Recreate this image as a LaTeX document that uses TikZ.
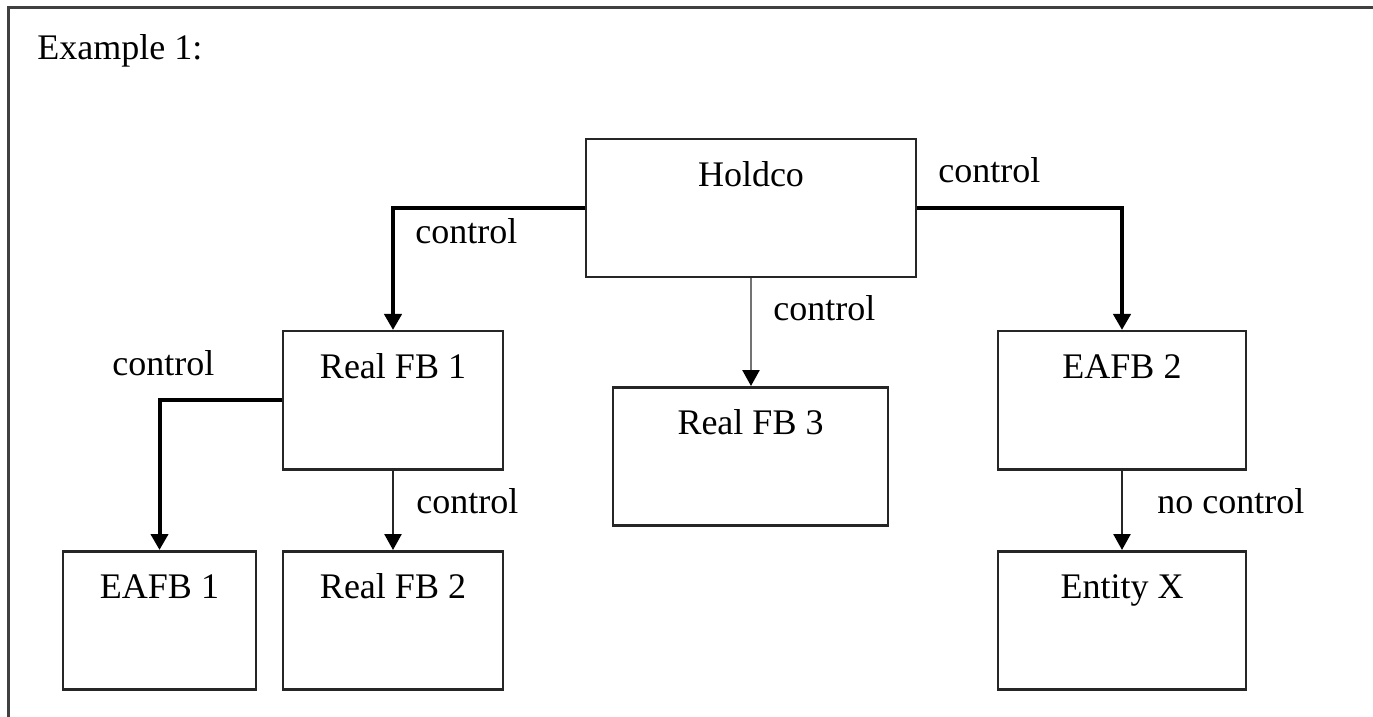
\documentclass[tikz,border=0pt]{standalone}
\usepackage{fontspec}
\setmainfont{Liberation Serif}
\usetikzlibrary{arrows.meta}
\begin{document}
\begin{tikzpicture}[x=0.5pt,y=-0.5pt,
  font=\fontsize{18}{21}\selectfont,
  entity/.style={draw=black!85, line width=1.25pt, inner sep=0pt, fill=white,
    text height=23.5pt, text depth=45.5pt, anchor=north},
  tip/.style={-{Triangle[width=8.5pt,length=8pt,black]}},
  strong/.style={tip, line width=2pt, black},
  weak/.style={tip, line width=1.25pt, black!85},
  greyline/.style={tip, line width=1.25pt, black!55},
  lbl/.style={anchor=base west, inner sep=0pt}]
\useasboundingbox (0,0) rectangle (1373,717);
\draw[line width=1.5pt, black!75] (8,717) -- (8,8) -- (1373,8);
\node[lbl] (title) at (37,60) {Example 1:};

\node[entity, minimum width=165pt] (h) at (751,138) {Holdco};
\node[entity, minimum width=110pt] (r1) at (393,330) {Real FB 1};
\node[entity, minimum width=137.5pt] (r3) at (750.5,386) {Real FB 3};
\node[entity, minimum width=124pt] (e2) at (1122,330) {EAFB 2};
\node[entity, minimum width=96.5pt] (e1) at (159.5,550) {EAFB 1};
\node[entity, minimum width=110pt] (r2) at (393,550) {Real FB 2};
\node[entity, minimum width=124pt] (ex) at (1122,550) {Entity X};

\draw[strong] (h.west) -| (r1.north);
\draw[strong] (h.east) -| (e2.north);
\draw[greyline] (h.south) -- (h.south |- r3.north);
\draw[strong] (r1.west) -| (e1.north);
\draw[weak] (r1.south) -- (r2.north);
\draw[weak] (e2.south) -- (ex.north);

\node[lbl] (c1) at (415,244) {control};
\node[lbl] (c2) at (938,183) {control};
\node[lbl] (c3) at (773,321) {control};
\node[lbl] (c4) at (112,375) {control};
\node[lbl] (c5) at (416,513) {control};
\node[lbl] (c6) at (1157,513) {no control};
\end{tikzpicture}
\end{document}
